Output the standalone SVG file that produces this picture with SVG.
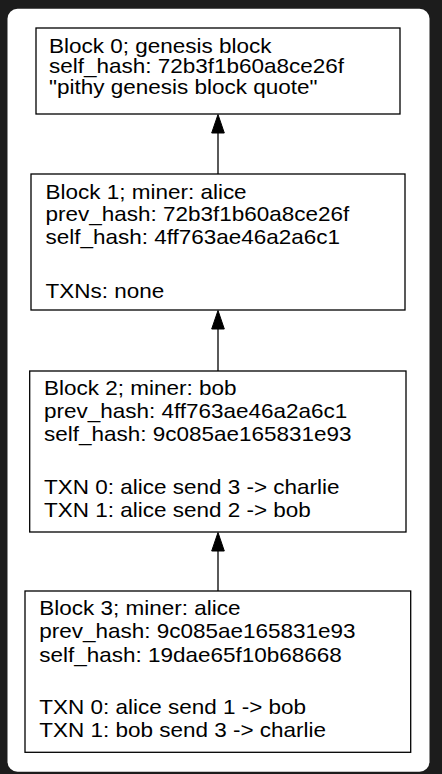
<svg xmlns="http://www.w3.org/2000/svg" width="442" height="774" viewBox="0 0 442 774">
<defs>
<style>
.bg{fill:#1c1c1c}
.panel{fill:#ffffff}
.box{fill:#ffffff;stroke:#000;stroke-width:1.3}
.t{font-family:"Liberation Sans",Arial,Helvetica,sans-serif;font-size:20px;fill:#000}
.edge{stroke:#000;stroke-width:1.3;fill:none}
.head{fill:#000;stroke:#000;stroke-width:1}
</style>
</defs>
<rect class="bg" x="0" y="0" width="442" height="774"/>
<rect class="panel" x="7.5" y="8.7" width="422" height="763" rx="10" ry="10"/>

<g id="connectors">
  <line class="edge" x1="218" y1="174" x2="218" y2="132"/>
  <polygon class="head" points="218,114.5 211.7,133 224.3,133"/>
  <line class="edge" x1="218" y1="371" x2="218" y2="328"/>
  <polygon class="head" points="218,310.5 211.7,329 224.3,329"/>
  <line class="edge" x1="218" y1="591" x2="218" y2="550"/>
  <polygon class="head" points="218,532.5 211.7,551 224.3,551"/>
</g>

<g id="block0">
  <rect class="box" x="36" y="28" width="364" height="86"/>
  <g transform="translate(49,0) scale(1.125,1)">
    <text class="t" x="0" y="53">Block 0; genesis block</text>
    <text class="t" x="0" y="73.5">self_hash: 72b3f1b60a8ce26f</text>
    <text class="t" x="0" y="94">"pithy genesis block quote"</text>
  </g>
</g>

<g id="block1">
  <rect class="box" x="31" y="174" width="374" height="136"/>
  <g transform="translate(45.5,0) scale(1.125,1)">
    <text class="t" x="0" y="199">Block 1; miner: alice</text>
    <text class="t" x="0" y="221.5">prev_hash: 72b3f1b60a8ce26f</text>
    <text class="t" x="0" y="244">self_hash: 4ff763ae46a2a6c1</text>
    <text class="t" x="0" y="298">TXNs: none</text>
  </g>
</g>

<g id="block2">
  <rect class="box" x="29.7" y="371" width="376.3" height="161"/>
  <g transform="translate(44,0) scale(1.125,1)">
    <text class="t" x="0" y="395">Block 2; miner: bob</text>
    <text class="t" x="0" y="418">prev_hash: 4ff763ae46a2a6c1</text>
    <text class="t" x="0" y="441">self_hash: 9c085ae165831e93</text>
    <text class="t" x="0" y="494">TXN 0: alice send 3 -&gt; charlie</text>
    <text class="t" x="0" y="517">TXN 1: alice send 2 -&gt; bob</text>
  </g>
</g>

<g id="block3">
  <rect class="box" x="25" y="591" width="385.7" height="161.3"/>
  <g transform="translate(39.3,0) scale(1.125,1)">
    <text class="t" x="0" y="615">Block 3; miner: alice</text>
    <text class="t" x="0" y="638.5">prev_hash: 9c085ae165831e93</text>
    <text class="t" x="0" y="662">self_hash: 19dae65f10b68668</text>
    <text class="t" x="0" y="714">TXN 0: alice send 1 -&gt; bob</text>
    <text class="t" x="0" y="737.5">TXN 1: bob send 3 -&gt; charlie</text>
  </g>
</g>
</svg>
